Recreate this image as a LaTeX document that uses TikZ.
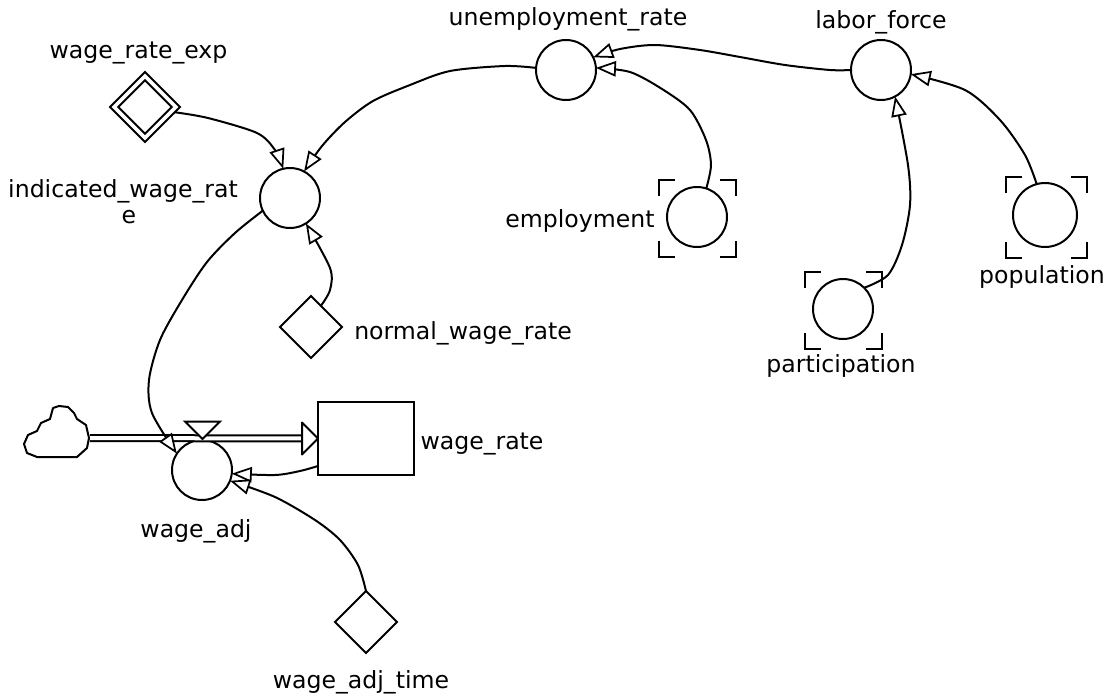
\documentclass[tikz,border=0pt]{standalone}
\usepackage{fontspec}
\setmainfont{DejaVu Sans}
\usetikzlibrary{arrows.meta,shapes.geometric}
\tikzset{
  x=0.75pt,y=-0.75pt,
  every node/.style={inner sep=0pt,outer sep=0pt},
  lbl/.style={font=\fontsize{17.7pt}{19.5pt}\selectfont,align=center,text=black,anchor=base},
  aux/.style={circle,draw=black,line width=1.5pt,minimum size=45pt,fill=white},
  const/.style={diamond,draw=black,line width=1.5pt,minimum size=46.5pt,aspect=1,fill=white},
  stockbox/.style={rectangle,draw=black,line width=1.5pt,minimum width=72pt,minimum height=54.5pt,fill=white},
  link/.style={line width=1.5pt,line join=round,draw=black,
    -{Triangle[open,fill=white,length=15pt,width=11.5pt,line width=1.3pt]}},
  bracket/.style={line width=1.5pt,draw=black},
  outline/.style={line width=1.5pt,draw=black,line join=round,fill=white},
}
\newcommand{\ghost}[4]{%
  \draw[bracket] (#1+16,#3)--(#1,#3)--(#1,#3+16);
  \draw[bracket] (#2-16,#3)--(#2,#3)--(#2,#3+16);
  \draw[bracket] (#1+16,#4)--(#1,#4)--(#1,#4-16);
  \draw[bracket] (#2-16,#4)--(#2,#4)--(#2,#4-16);
}
\begin{document}
\begin{tikzpicture}
\useasboundingbox (0,0) rectangle (1107,696);
% ghost brackets
\ghost{659}{736}{180}{257}
\ghost{1006}{1087}{177}{258}
\ghost{805}{882}{272}{349}
% nodes
\node[aux] (ur) at (566,70) {};
\node[aux] (lf) at (881,70) {};
\node[aux] (iw) at (290,198) {};
\node[aux] (em) at (697,217) {};
\node[aux,minimum size=48pt] (po) at (1045,215) {};
\node[aux] (pa) at (843,309) {};
\node[aux] (wa) at (202,470) {};
\node[const,minimum size=52.5pt] (wxo) at (145,107) {};
\node[const,minimum size=40pt] (wx) at (145,107) {};
\node[const] (nw) at (311,327) {};
\node[const] (wt) at (366,622) {};
\node[stockbox] (st) at (366,438.5) {};
\node (cl) at (57,438) [minimum width=49.5pt,minimum height=40pt] {};
% flow
\draw[line width=1.5pt,double=white,double distance=3pt] (cl.east) -- ([xshift=-11pt]st.west);
\draw[outline] (st.west) -- ++(-16,-16) -- ++(0,32) -- cycle;
\draw[outline] (24,444) -- (28,435) -- (37,431) -- (41,423) -- (50,419) -- (53,408) -- (59,406) -- (68,407) -- (74,413) -- (77,419) -- (86,425) -- (89,438) -- (87,448) -- (77,457) -- (37,457) -- (27,453) -- cycle;
\draw[line width=1.5pt,line join=miter,fill=white] (185,421.5) -- (220,421.5) -- (202.5,439) -- cycle;
% connectors
\draw[link] plot[smooth,tension=.5] coordinates {(wxo.-10) (208,118) (257,133) (275,150) (iw.103)};
\draw[link] plot[smooth,tension=.5] coordinates {(ur.176) (505,66) (450,71) (410,85) (373,101) (345,122) (322,146) (iw.62)};
\draw[link] plot[smooth,tension=.5] coordinates {(lf.180) (830,70) (785,65) (740,57) (700,50) (655,45) (620,49) (ur.25)};
\draw[link] plot[smooth,tension=.5] coordinates {(em.72) (711,165) (706,140) (690,110) (662,89) (630,72) (ur.4)};
\draw[link] plot[smooth,tension=.5] coordinates {(pa.45) (888,275) (902,245) (910,205) (908,165) (lf.-62)};
\draw[link] plot[smooth,tension=.5] coordinates {(po.105) (1025,155) (1000,120) (965,90) (lf.-8)};
\draw[link] plot[smooth,tension=.5] coordinates {(iw.205) (235,233) (207,262) (182,300) (160,340) (149,380) (152,413) (wa.147)};
\draw[link] plot[smooth,tension=.5] coordinates {(st.west|-0,466) (300,471) (275,475) (wa.-7)};
\draw[link] plot[smooth,tension=.5] coordinates {(wt.north) (358,565) (340,540) (315,520) (275,497) (wa.-21)};
\draw[link] plot[smooth,tension=.5] coordinates {(nw.65) (330,290) (330,268) (iw.-58)};
% labels
\node[lbl] (t1) at (138.5,58.5) {wage\_rate\_exp};
\node[lbl] (t2) at (568,25.5) {unemployment\_rate};
\node[lbl] (t3) at (881,28.5) {labor\_force};
\node[lbl] (t4) at (123,223) {indicated\_wage\_rat\\\hspace*{9pt}e};
\node[lbl] (t5) at (580,227.5) {employment};
\node[lbl] (t6) at (1042,283.5) {population};
\node[lbl] (t7) at (841,372.5) {participation};
\node[lbl] (t8) at (463,339.5) {normal\_wage\_rate};
\node[lbl] (t9) at (482,449) {wage\_rate};
\node[lbl] (t10) at (196,537.5) {wage\_adj};
\node[lbl] (t11) at (361,688.5) {wage\_adj\_time};
\end{tikzpicture}
\end{document}
